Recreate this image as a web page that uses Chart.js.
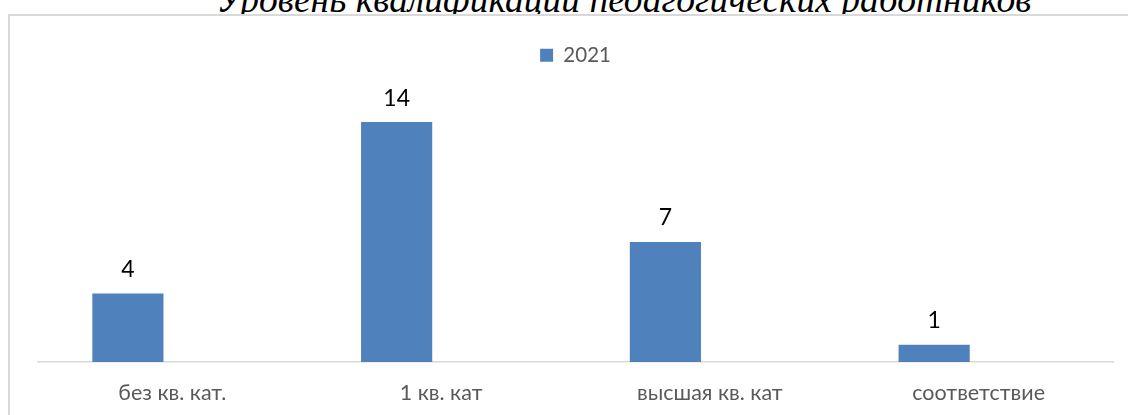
<!DOCTYPE html>
<html lang="ru">
<head>
    <meta charset="UTF-8">
    <title>Уровень квалификации педагогических работников</title>
    <style>
        body { margin: 0; background: #fff; overflow: hidden; }
        .page { position: relative; width: 1128px; height: 415px; overflow: hidden; }
        .title {
            position: absolute; left: 120px; top: -18px; width: 1008px;
            text-align: center; color: #000; white-space: nowrap;
            font-family: "Liberation Serif", "DejaVu Serif", serif;
            font-style: italic; font-size: 37.5px; line-height: 36px;
        }
        .box {
            position: absolute; left: 8px; top: 14px; width: 1130px; height: 420px;
            border: 2px solid #d9d9d9; background: #fff; box-sizing: border-box;
        }
        .chart-container { position: absolute; left: 0; top: 0; width: 1128px; height: 415px; }
        canvas { display: block; }
    </style>
</head>
<body>
<div class="page">
    <div class="title">Уровень квалификации педагогических работников</div>
    <div class="box"></div>
    <div class="chart-container">
        <canvas id="qualChart" width="1128" height="415"></canvas>
    </div>
</div>
<script src="https://cdn.jsdelivr.net/npm/chart.js"></script>
<script>
    // данные
    const categories = ['без кв. кат.', '1 кв. кат', 'высшая кв. кат', 'соответствие'];
    const values2021 = [4, 14, 7, 1];
    const seriesName = '2021';

    // подписи значений над столбцами
    const valueLabels = {
        id: 'valueLabels',
        afterDatasetsDraw(chart) {
            const ctx = chart.ctx;
            const meta = chart.getDatasetMeta(0);
            ctx.save();
            ctx.font = '23px Lato, sans-serif';
            ctx.fillStyle = '#000';
            ctx.textAlign = 'center';
            ctx.textBaseline = 'middle';
            meta.data.forEach(function (bar, i) {
                ctx.fillText(values2021[i], bar.x, bar.y - 24);
            });
            ctx.restore();
        }
    };

    const qualCtx = document.getElementById('qualChart').getContext('2d');
    const qualChart = new Chart(qualCtx, {
        type: 'bar',
        data: {
            labels: categories,
            datasets: [{
                label: seriesName,
                data: values2021,
                backgroundColor: '#4f81bd',
                categoryPercentage: 0.662,
                barPercentage: 0.8
            }, {
                label: '',
                data: categories.map(() => null),
                backgroundColor: 'rgba(0,0,0,0)',
                categoryPercentage: 0.662,
                barPercentage: 0.8
            }]
        },
        options: {
            responsive: false,
            animation: false,
            devicePixelRatio: 1,
            layout: { padding: { left: 38, right: 15, top: 35, bottom: 0 } },
            plugins: {
                legend: {
                    position: 'top',
                    labels: {
                        filter: item => item.text !== '',
                        boxWidth: 13,
                        boxHeight: 13,
                        padding: 10,
                        color: '#595959',
                        font: { family: 'Lato', size: 20.5 }
                    }
                },
                tooltip: { enabled: false }
            },
            scales: {
                x: {
                    grid: { display: false, drawTicks: false },
                    border: { color: '#d9d9d9', width: 1.5 },
                    ticks: { color: '#595959', padding: 18, maxRotation: 0, font: { family: 'Lato', size: 21.5 } },
                    afterFit: scale => { scale.height = 53; }
                },
                y: {
                    display: false,
                    min: 0,
                    max: 16.72
                }
            }
        },
        plugins: [valueLabels]
    });
</script>
</body>
</html>
